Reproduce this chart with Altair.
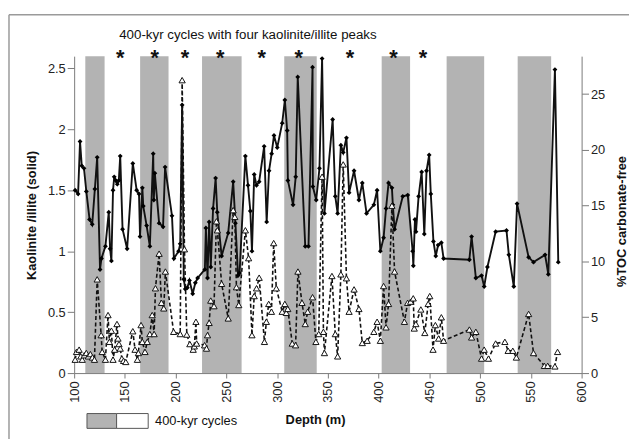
import altair as alt
import pandas as pd

# ---- data ----
depth_k = [101, 103.9, 105.8, 107.5, 109.7, 112, 115.2, 117.8, 120.4, 122.7, 125.5, 126.9, 130.8, 134.1,
           135.4, 136.7, 138.3, 139.5, 141, 142.5, 144, 145.4, 147.7, 152.2, 157.8, 161.6, 163.9, 164.9,
           167.2, 168.1, 171.4, 174.6, 177.9, 178.5, 179.5, 183.7, 187.6, 189.6, 196.4, 198.3, 202.9,
           204.5, 206.4, 208, 209.5, 211.5, 213.6, 216.8, 219.4, 221.7, 228.8, 229.8, 231.4, 233, 234.6,
           236.9, 239.4, 241, 245.3, 251.8, 256.7, 258.9, 261.5, 263, 268.7, 271.3, 273.6, 275.2, 277.4,
           279.7, 282.3, 287.2, 289.7, 292, 294.6, 296.9, 300.1, 305, 307.6, 309.9, 310.6, 315.7, 318.3,
           320.3, 327.7, 330.9, 334.9, 335.2, 338.5, 341.7, 344.3, 346.6, 354.7, 357.3, 359.6, 362.8,
           365.1, 368.3, 370.9, 375.8, 380.6, 383.9, 388.1, 395.3, 398.5, 401.7, 404.9, 407.3, 409.8,
           413.1, 414, 415.7, 423.8, 428.7, 433.5, 434.2, 435.8, 436.8, 439.4, 442.4, 445, 447.2, 449.8,
           451.4, 454, 456.3, 458.6, 461.8, 464, 489.4, 491.6, 495.8, 501.4, 504, 507.2, 515.3, 526,
           528.3, 533.2, 536.4, 547.8, 552.6, 564, 567.2, 573.7, 577]
kaolinite_illite = [1.50, 1.47, 1.90, 1.70, 1.68, 1.49, 1.26, 1.22, 1.51, 1.77, 0.85, 0.94, 1.04, 1.32,
                    1.02, 0.92, 1.50, 1.61, 1.58, 1.55, 1.58, 1.78, 1.18, 1.02, 1.72, 1.50, 1.47, 1.12,
                    1.52, 1.37, 1.21, 1.04, 1.80, 1.42, 1.64, 1.23, 1.20, 1.69, 1.29, 0.94, 1.00,
                    1.06, 2.20, 0.77, 0.69, 0.70, 0.76, 0.65, 0.74, 0.78, 0.85, 1.19, 0.78, 1.24, 0.87,
                    1.35, 1.60, 1.32, 0.96, 1.15, 1.57, 1.23, 0.80, 0.82, 1.78, 1.54, 1.33, 1.00, 1.63,
                    1.54, 1.57, 1.86, 1.24, 1.66, 1.80, 1.95, 1.85, 2.05, 2.24, 1.99, 1.58, 1.38, 1.61,
                    2.43, 1.04, 1.04, 2.51, 1.53, 1.42, 1.68, 2.58, 1.31, 2.08, 1.45, 1.31, 1.87,
                    1.81, 1.93, 1.48, 1.66, 1.42, 1.56, 1.31, 1.38, 1.50, 1.00, 1.11, 1.35, 1.56,
                    1.52, 1.38, 1.18, 1.45, 1.46, 1.00, 0.88, 1.26, 1.16, 1.45, 1.65, 1.14, 1.66, 1.79,
                    1.47, 1.08, 0.96, 1.05, 1.07, 0.94, 0.93, 1.12, 0.78, 0.80, 0.71, 0.87, 1.16, 1.17,
                    0.97, 0.71, 1.39, 0.95, 0.91, 0.97, 0.81, 2.49, 0.91]

depth_toc = [101, 102.3, 104.9, 106.5, 108, 110, 112, 114, 116, 118, 120, 122.7, 126.6, 127.6, 130.8,
             133.4, 134.7, 136.7, 138.3, 139.9, 142.2, 143.2, 144.2, 145.4, 147, 148.7, 150.9, 157.8,
             160, 162.3, 163.3, 165.9, 167.2, 169.8, 172, 174.6, 176.9, 178.8, 180.1, 183.7, 186,
             188.3, 189.9, 198, 204.5, 206.4, 208.7, 211, 214, 217.3, 218.4, 220, 220.7, 228.5, 230.4,
             231.4, 233, 234.6, 237.8, 240.2, 241.1, 245.3, 251.8, 256.7, 258.3, 259.9, 262.2, 268.7,
             271.9, 275.2, 277.4, 279.7, 282.3, 287.5, 289.4, 291.7, 294.4, 296.6, 299.2, 305, 307.6,
             309, 310.5, 314.9, 318.2, 320.5, 324.5, 327.7, 330.1, 334.9, 338.2, 341, 344.3, 345.6,
             346.6, 354, 357.3, 359.6, 362.8, 365.1, 368.3, 370.9, 375.8, 380.6, 383.9, 388.7, 395.3,
             398.5, 401.7, 404.9, 407.3, 409.8, 413.1, 415.7, 425.4, 428.6, 431.5, 434.1, 435.1, 436.7,
             441.6, 445.5, 448.8, 450.4, 453.6, 455.9, 459.1, 461.8, 464, 489.4, 491.6, 495.8, 501.4,
             504, 508.2, 515.3, 524.4, 527.6, 532.2, 535.7, 547.8, 552.6, 563.3, 566.6, 573.7, 576.3]
toc = [1.2, 1.9, 2.1, 1.5, 1.2, 1.6, 1.8, 1.5, 1.7, 1.4, 1.2, 8.4, 3.4, 1.9, 1.2,
       5.2, 2.8, 3.8, 1.2, 2.1, 4.4, 3.1, 2.6, 2.2, 1.3, 1.1, 1.0, 3.75,
       2.1, 1.2, 1.8, 4.3, 2.8, 1.9, 2.8, 3.5, 5.2, 3.5, 7.6, 10.7, 6.3,
       5.8, 9.1, 3.7, 3.5, 26.25, 11.1, 3.45, 2.6, 2.1, 2.4, 4.6, 2.65, 2.5, 2.2,
       3.4, 4.5, 6.5, 6.0, 13.6, 12.8, 8.0, 4.9, 14.6, 14.0, 7.7, 6.1, 12.8,
       10.3, 3.4, 6.9, 7.6, 8.55, 2.8, 4.6, 6.2, 5.5, 11.65, 7.6, 5.5, 6.2,
       5.4, 5.75, 2.65, 2.5, 9.1, 6.3, 4.4, 5.5, 6.8, 2.8, 3.5, 17.6, 3.7,
       1.8, 8.7, 3.5, 1.5, 8.85, 18.7, 8.5, 5.5, 7.5, 5.75, 2.7, 2.9, 3.7,
       4.6, 2.9, 7.8, 4.1, 6.2, 15.0, 9.1, 4.6, 6.3, 6.4, 6.7, 4.0, 4.4,
       5.7, 3.6, 6.2, 6.9, 2.1, 4.3, 3.1, 5.0, 2.9, 3.9, 3.2, 3.7, 1.3,
       2.1, 1.3, 2.65, 2.8, 2.0, 2.0, 1.4, 5.3, 1.8, 0.65, 0.65, 0.6, 1.9]

band_start = [111, 165, 226, 307, 403, 467, 537]
band_end = [130, 193, 265, 339, 431, 504, 570]
star_depth = [145.5, 179.5, 209.3, 243.8, 284.9, 321.2, 371.8, 414.6, 443.8]
x_ticks = [100, 150, 200, 250, 300, 350, 400, 450, 500, 550, 600]
left_ticks = [0, 0.5, 1, 1.5, 2, 2.5]
right_ticks = [0, 5, 10, 15, 20, 25]
title_text = "400-kyr cycles with four kaolinite/illite peaks"
legend_label = "400-kyr cycles"
x_title = "Depth (m)"
left_title = "Kaolinite /illite (solid)"
right_title = "%TOC carbonate-free"

FONT = "Liberation Sans"
AX = "#7a7a7a"
W, H = 514, 321

df_k = pd.DataFrame({"depth": depth_k, "ki": kaolinite_illite})
df_t = pd.DataFrame({"depth": depth_toc, "toc": toc})
df_b = pd.DataFrame({"depth": band_start, "end": band_end})
df_s = pd.DataFrame({"depth": star_depth})
one = pd.DataFrame({"a": [0]})

xscale = alt.Scale(domain=[100, 600], nice=False, zero=False)
x_axis_def = alt.Axis(
    values=x_ticks, labelAngle=270, labelAlign="right", labelBaseline="middle",
    labelFontSize=13, labelPadding=3, tickSize=5, domainColor=AX, tickColor=AX,
    labelColor="#222", title=x_title, titleFontSize=13, titleFontWeight="bold",
    titleColor="#111", titleX=244, titleY=47, titleBaseline="middle", titleAlign="center")
xaxis = alt.X("depth:Q", scale=xscale, axis=x_axis_def)

yleft = alt.Scale(domain=[0, 2.6], nice=False, zero=True)
yright = alt.Scale(domain=[0, 28.4], nice=False, zero=True)

bands = alt.Chart(df_b).mark_rect(color="#b3b3b3").encode(x=xaxis, x2="end:Q")

k_line = alt.Chart(df_k).mark_line(color="#111", strokeWidth=1.9).encode(
    x=xaxis,
    y=alt.Y("ki:Q", scale=yleft, axis=alt.Axis(
        values=left_ticks, format="~g", labelFontSize=13, tickSize=7, domainColor=AX,
        tickColor=AX, labelColor="#222", title=left_title, titleFontSize=13,
        titleFontWeight="bold", titleColor="#111", titleX=-43, titleY=161,
        titleAngle=270, titleAlign="center", titleBaseline="middle")),
)
k_pts = alt.Chart(df_k).mark_point(shape="diamond", filled=True, color="#000", size=24, opacity=1).encode(
    x=xaxis, y=alt.Y("ki:Q", scale=yleft, axis=None))

t_line = alt.Chart(df_t).mark_line(color="#111", strokeWidth=1.6, strokeDash=[4, 2.5]).encode(
    x=xaxis,
    y=alt.Y("toc:Q", scale=yright, axis=alt.Axis(
        orient="right", values=right_ticks, labelFontSize=13, tickSize=7, domainColor=AX,
        tickColor=AX, labelColor="#222", title=right_title, titleFontSize=13,
        titleFontWeight="bold", titleColor="#111", titleX=40, titleY=167, titleAngle=270,
        titleAlign="center", titleBaseline="middle")),
)
t_pts = alt.Chart(df_t).mark_point(shape="triangle-up", filled=True, fill="white", stroke="#111",
                                   strokeWidth=1, size=40, opacity=1).encode(
    x=xaxis, y=alt.Y("toc:Q", scale=yright, axis=None))

stars = alt.Chart(df_s).mark_text(text="*", fontSize=22, fontWeight="bold", font=FONT,
                                  baseline="alphabetic", color="#111").encode(
    x=xaxis, y=alt.value(9))

title_mark = alt.Chart(one).mark_text(text=title_text, fontSize=13.5, font=FONT, color="#111",
                                      align="center", baseline="middle").encode(
    x=alt.value(176), y=alt.value(-21))

leg_gray = alt.Chart(one).mark_rect(fill="#b3b3b3", stroke="#555", strokeWidth=1).encode(
    x=alt.value(13), x2=alt.value(43), y=alt.value(362), y2=alt.value(377))
leg_white = alt.Chart(one).mark_rect(fill="white", stroke="#555", strokeWidth=1).encode(
    x=alt.value(43), x2=alt.value(75), y=alt.value(362), y2=alt.value(377))
leg_text = alt.Chart(one).mark_text(text=legend_label, fontSize=13, font=FONT, color="#111",
                                    align="left", baseline="middle").encode(
    x=alt.value(82), y=alt.value(370))

frame_left = alt.Chart(one).mark_rule(color="#9a9a9a", strokeWidth=1.5).encode(
    x=alt.value(-66), y=alt.value(-42), y2=alt.value(395))
frame_top = alt.Chart(one).mark_rule(color="#9a9a9a", strokeWidth=1.5).encode(
    x=alt.value(-66), x2=alt.value(570), y=alt.value(-42))

chart = alt.layer(
    bands, k_line, t_line, k_pts, t_pts,
    frame_left, frame_top, title_mark, stars, leg_gray, leg_white, leg_text,
).resolve_scale(y="independent").properties(
    width=W, height=H,
    padding={"left": 67, "top": 46, "right": 48, "bottom": 64},
    autosize=alt.AutoSizeParams(type="none"),
).configure_view(stroke=None).configure_axis(
    labelFont=FONT, titleFont=FONT, grid=False, domainWidth=1, tickWidth=1
)

chart.save("out.html", embed_options={"renderer": "svg", "actions": False})
